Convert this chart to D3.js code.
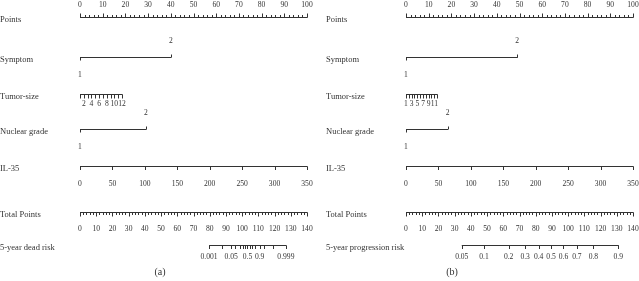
<!DOCTYPE html>
<html>
<head>
<meta charset="utf-8">
<script src="https://cdn.jsdelivr.net/npm/d3@7"></script>
<style>
  body { margin: 0; background: #fff; }
  svg { filter: grayscale(1); }
  text { font-family: "Liberation Serif", "Times New Roman", serif; fill: #333; }
  line { stroke: #333; stroke-width: 1; }
</style>
</head>
<body>
<svg width="639" height="281"></svg>
<script>
// ---- data ----
const pointsTicks = [0, 10, 20, 30, 40, 50, 60, 70, 80, 90, 100]
const totalTicks = [0, 10, 20, 30, 40, 50, 60, 70, 80, 90, 100, 110, 120, 130, 140]

const symptomLevels = ["1", "2"]
const symptomPointsA = [0, 40]
const symptomPointsB = [0, 49]

const tumorSizes = [1, 2, 3, 4, 5, 6, 7, 8, 9, 10, 11, 12]
const tumorPointsA = [0, 1.7, 3.4, 5.0, 6.7, 8.4, 10.1, 11.8, 13.5, 15.1, 16.8, 18.5]
const tumorPointsB = [0, 1.2, 2.5, 3.7, 5.0, 6.2, 7.5, 8.7, 10.0, 11.2, 12.5, 13.7]
const tumorLabelsA = [2, 4, 6, 8, 10, 12]
const tumorLabelsB = [1, 3, 5, 7, 9, 11]

const gradeLevels = ["1", "2"]
const gradePointsA = [0, 29]
const gradePointsB = [0, 18.3]

const il35Values = [0, 50, 100, 150, 200, 250, 300, 350]
const il35Points = [0, 14.3, 28.6, 42.9, 57.1, 71.4, 85.7, 100]

// 5-year dead risk (a): tick values and the total points where they sit
const deadRisk = [0.001, 0.01, 0.05, 0.1, 0.2, 0.3, 0.4, 0.5, 0.6, 0.7, 0.8, 0.9, 0.95, 0.99, 0.999]
const deadRiskTotal = [79.6, 87.5, 93.2, 95.8, 98.6, 100.4, 101.9, 103.3, 104.7, 106.2, 108.0, 110.8, 113.4, 119.1, 127.0]
const deadRiskLabels = [0.001, 0.05, 0.5, 0.9, 0.999]

// 5-year progression risk (b)
const progRisk = [0.05, 0.1, 0.2, 0.3, 0.4, 0.5, 0.6, 0.7, 0.8, 0.9]
const progRiskTotal = [34.4, 48.1, 63.3, 73.5, 81.8, 89.5, 97.1, 105.4, 115.6, 130.9]
const progRiskLabels = [0.05, 0.1, 0.2, 0.3, 0.4, 0.5, 0.6, 0.7, 0.8, 0.9]

const svg = d3.select("svg")
svg.append("rect").attr("width", 639).attr("height", 281).attr("fill", "#fff")

const x0 = 80, x1 = 307
const labelSize = 8.5, tickSize = 7.6

function rowLabel(g, text, y) {
	g.append("text")
		.attr("x", 0)
		.attr("y", y + 2)
		.attr("dy", "0.35em")
		.attr("font-size", labelSize)
		.text(text)
}

function hline(g, a, b, y) {
	g.append("line").attr("x1", a).attr("x2", b).attr("y1", y + 0.5).attr("y2", y + 0.5)
}

function tickMarks(g, xs, y, len) {
	g.append("g").selectAll("line")
		.data(xs)
		.join("line")
		.attr("x1", d => Math.round(d) + 0.5)
		.attr("x2", d => Math.round(d) + 0.5)
		.attr("y1", y + 0.5)
		.attr("y2", y + 0.5 + len)
}

function tickText(g, items, y) {
	g.append("g").selectAll("text")
		.data(items)
		.join("text")
		.attr("x", d => d[0])
		.attr("y", y)
		.attr("dy", "0.35em")
		.attr("text-anchor", "middle")
		.attr("font-size", tickSize)
		.text(d => d[1])
}

function drawPanel(p) {
	const g = svg.append("g").attr("transform", `translate(${p.dx},0)`)
	const xP = d3.scaleLinear().domain([0, 100]).range([x0, x1])
	const xT = d3.scaleLinear().domain([0, 140]).range([x0, x1])

	// Points
	let y = 17
	rowLabel(g, "Points", y)
	hline(g, x0, x1 + 0.5, y)
	tickMarks(g, d3.range(0, 101, 2).filter(v => v % 10 !== 0).map(xP), y, -2.5)
	tickMarks(g, pointsTicks.map(xP), y, -4)
	tickText(g, pointsTicks.map(v => [xP(v), v]), 4)

	// Symptom
	y = 57
	rowLabel(g, "Symptom", y)
	hline(g, xP(p.symptom[0]), xP(p.symptom[1]) + 0.5, y)
	tickMarks(g, [xP(p.symptom[0])], y, 3)
	tickMarks(g, [xP(p.symptom[1])], y, -3)
	tickText(g, [[xP(p.symptom[1]), symptomLevels[1]]], y - 17)
	tickText(g, [[xP(p.symptom[0]), symptomLevels[0]]], y + 17)

	// Tumor-size
	y = 94
	rowLabel(g, "Tumor-size", y)
	hline(g, xP(p.tumor[0]), xP(p.tumor[p.tumor.length - 1]) + 0.5, y)
	tickMarks(g, p.tumor.map(xP), y, 4)
	tickText(g, p.tumorLabels.map(v => [xP(p.tumor[tumorSizes.indexOf(v)]), v]), y + 9.5)

	// Nuclear grade
	y = 129
	rowLabel(g, "Nuclear grade", y)
	hline(g, xP(p.grade[0]), xP(p.grade[1]) + 0.5, y)
	tickMarks(g, [xP(p.grade[0])], y, 3)
	tickMarks(g, [xP(p.grade[1])], y, -3)
	tickText(g, [[xP(p.grade[1]), gradeLevels[1]]], y - 17)
	tickText(g, [[xP(p.grade[0]), gradeLevels[0]]], y + 17)

	// IL-35
	y = 166
	rowLabel(g, "IL-35", y)
	hline(g, xP(il35Points[0]), xP(il35Points[il35Points.length - 1]) + 0.5, y)
	tickMarks(g, il35Points.map(xP), y, 3.5)
	tickText(g, il35Values.map((v, i) => [xP(il35Points[i]), v]), y + 17)

	// Total Points
	y = 212
	rowLabel(g, "Total Points", y)
	hline(g, x0, x1 + 0.5, y)
	tickMarks(g, d3.range(0, 141, 2).filter(v => v % 10 !== 0).map(xT), y, 2.5)
	tickMarks(g, totalTicks.map(xT), y, 4)
	tickText(g, totalTicks.map(v => [xT(v), v]), y + 16)

	// risk
	y = 245
	rowLabel(g, p.riskName, y)
	hline(g, xT(p.riskTotal[0]), xT(p.riskTotal[p.riskTotal.length - 1]) + 0.5, y)
	tickMarks(g, p.riskTotal.map(xT), y, 3.5)
	tickText(g, p.riskLabels.map(v => [xT(p.riskTotal[p.risk.indexOf(v)]), v]), y + 11.5)

	g.append("text")
		.attr("x", p.tagX)
		.attr("y", 271)
		.attr("dy", "0.35em")
		.attr("text-anchor", "middle")
		.attr("font-size", 10)
		.text(p.tag)
}

drawPanel({
	dx: 0, tag: "(a)", tagX: 160,
	symptom: symptomPointsA, tumor: tumorPointsA, tumorLabels: tumorLabelsA, grade: gradePointsA,
	riskName: "5-year dead risk", risk: deadRisk, riskTotal: deadRiskTotal, riskLabels: deadRiskLabels
})
drawPanel({
	dx: 326, tag: "(b)", tagX: 126,
	symptom: symptomPointsB, tumor: tumorPointsB, tumorLabels: tumorLabelsB, grade: gradePointsB,
	riskName: "5-year progression risk", risk: progRisk, riskTotal: progRiskTotal, riskLabels: progRiskLabels
})
</script>
</body>
</html>
